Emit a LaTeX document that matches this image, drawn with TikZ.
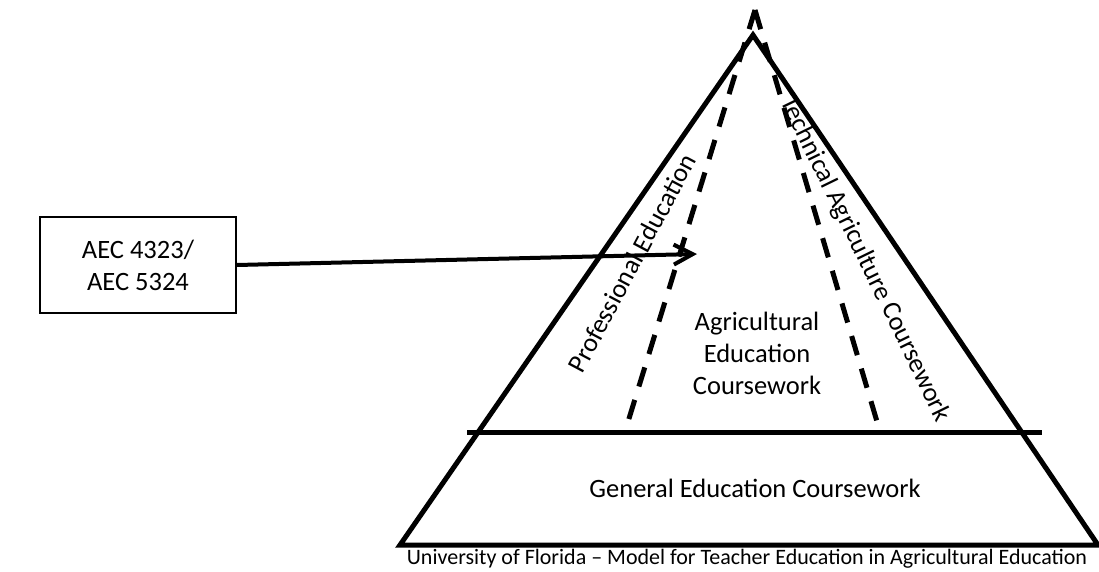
\documentclass[tikz,border=0pt]{standalone}
\usepackage{fontspec}
\setmainfont{Carlito}
\usetikzlibrary{arrows.meta}
\begin{document}
\begin{tikzpicture}[x=1pt,y=-1pt,
  thickline/.style={line width=5pt, line join=miter},
  dashline/.style={line width=5pt, dash pattern=on 20pt off 14pt},
  lbl/.style={font=\fontsize{26.5}{32}\selectfont, align=center, inner sep=0pt},
  caption/.style={font=\fontsize{22}{24}\selectfont, inner sep=0pt}]
\useasboundingbox (0,0) rectangle (1099,571);
% triangle
\coordinate (apex) at (753,35);
\coordinate (bl) at (400,545);
\coordinate (br) at (1098,545);
\draw[thickline] (apex) -- (bl) -- (br) -- cycle;
% horizontal divider
\coordinate (hl) at (467,432);
\coordinate (hr) at (1042,432);
\draw[thickline] (hl) -- (hr);
% dashed lines
\coordinate (top) at (755,10);
\coordinate (dl) at (627,425);
\coordinate (dr) at (878,425);
\draw[dashline] (top) -- (dl);
\draw[dashline] (top) -- (dr);
% labels
\node[lbl, rotate=62] (prof) at (632,263) {Professional Education};
\node[lbl, rotate=-64] (tech) at (865,259) {Technical Agriculture Coursework};
\node[lbl] (agri) at (757,353) {Agricultural\\Education\\Coursework};
\node[lbl] (gen) at (755,488) {General Education Coursework};
\node[caption] (cap) at (747,559) {University of Florida – Model for Teacher Education in Agricultural Education};
% box
\node[draw, line width=1.5pt, minimum width=196pt, minimum height=96pt, lbl] (box) at (138,265) {AEC 4323/\\AEC 5324};
\coordinate (target) at (697,254);
\draw[line width=4pt, -{Straight Barb[length=19pt,width=20pt,line width=4pt]}] (box.east) -- (target);
\end{tikzpicture}
\end{document}
